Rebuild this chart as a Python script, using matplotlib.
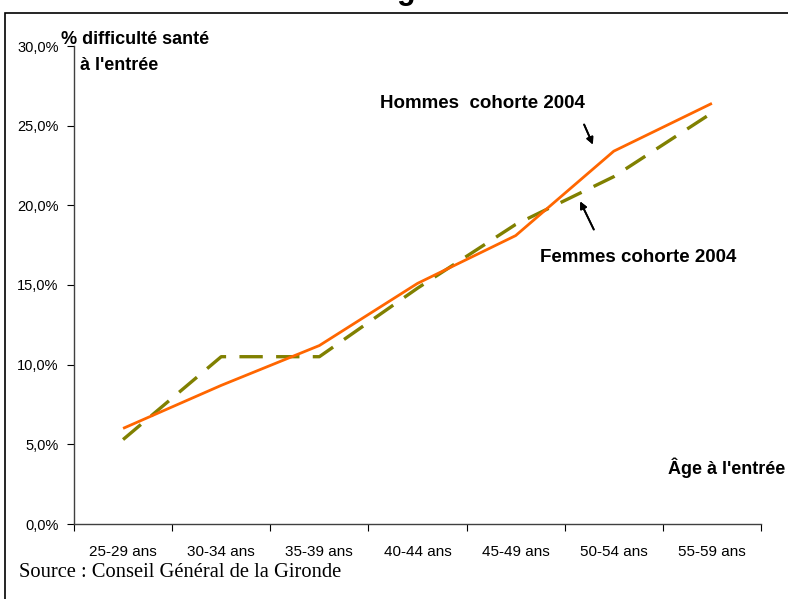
import matplotlib
matplotlib.use("Agg")
import matplotlib.pyplot as plt
from matplotlib.patches import Rectangle
from matplotlib.ticker import FuncFormatter

# donnees
categories = ["25-29 ans", "30-34 ans", "35-39 ans", "40-44 ans",
              "45-49 ans", "50-54 ans", "55-59 ans"]
hommes = [6.0, 8.7, 11.2, 15.1, 18.1, 23.4, 26.4]
femmes = [5.3, 10.5, 10.5, 14.8, 18.8, 21.8, 25.8]
yticks = [0, 5, 10, 15, 20, 25, 30]

arial = ["Liberation Sans", "DejaVu Sans"]

fig = plt.figure(figsize=(7.88, 5.99), dpi=100)
ax = fig.add_axes([74 / 788, 75 / 599, 687 / 788, 478 / 599])

x = list(range(len(categories)))
ax.plot(x, hommes, color="#FF6600", lw=2.0, solid_capstyle="butt", zorder=3)
ax.plot(x, femmes, color="#808000", lw=2.4, dashes=(7, 4), zorder=2)

ax.set_xlim(-0.5, len(categories) - 0.5)
ax.set_ylim(0, 30)
ax.set_yticks(yticks)
ax.yaxis.set_major_formatter(FuncFormatter(lambda v, p: f"{v:.1f}%".replace(".", ",")))
ax.set_xticks([i - 0.5 for i in range(len(categories) + 1)])
ax.set_xticklabels([])
ax.set_xticks(x, minor=True)
ax.set_xticklabels(categories, minor=True)
ax.tick_params(axis="x", which="minor", length=0, pad=15)
ax.tick_params(axis="x", which="major", length=5, direction="out")
ax.tick_params(axis="y", length=5, direction="out", pad=6)
for lab in ax.get_yticklabels():
    lab.set_family(arial)
    lab.set_fontsize(10.5)
for lab in ax.get_xticklabels(minor=True):
    lab.set_family(arial)
    lab.set_fontsize(11)

for s in ["top", "right"]:
    ax.spines[s].set_visible(False)
for s in ["left", "bottom"]:
    ax.spines[s].set_color("#404040")
    ax.spines[s].set_linewidth(1.0)

# textes
fig.text(61 / 788, 1 - 40 / 599, "% difficulté santé", family=arial,
         fontweight="bold", fontsize=13, va="center")
fig.text(80 / 788, 1 - 66 / 599, "à l'entrée", family=arial,
         fontweight="bold", fontsize=13, va="center")
fig.text(668 / 788, 1 - 468 / 599, "Âge à l'entrée", family=arial,
         fontweight="bold", fontsize=13, va="center")
fig.text(380 / 788, 1 - 103 / 599, "Hommes  cohorte 2004", family=arial,
         fontweight="bold", fontsize=13.5, va="center")
fig.text(540 / 788, 1 - 257 / 599, "Femmes cohorte 2004", family=arial,
         fontweight="bold", fontsize=13.5, va="center")
fig.text(19 / 788, 1 - 577 / 599, "Source : Conseil Général de la Gironde",
         family=["Liberation Serif", "DejaVu Serif"], fontsize=14.8, va="baseline")

# fleches
fig.add_artist(plt.annotate("", xy=(594 / 788, 1 - 147 / 599), xytext=(583 / 788, 1 - 122 / 599),
                            xycoords="figure fraction",
                            arrowprops=dict(arrowstyle="-|>", color="black", lw=1.3,
                                            mutation_scale=10)))
fig.add_artist(plt.annotate("", xy=(579 / 788, 1 - 199 / 599), xytext=(595 / 788, 1 - 232 / 599),
                            xycoords="figure fraction",
                            arrowprops=dict(arrowstyle="-|>", color="black", lw=1.3,
                                            mutation_scale=10)))

# cadre et titre coupe
fig.add_artist(Rectangle((5 / 788, -0.05), 1.0, 1 - 13 / 599 + 0.05,
                         transform=fig.transFigure, fill=False,
                         edgecolor="black", lw=1.2))
fig.text(406 / 788, 1 + 1 / 599, "g", family=arial, fontweight="bold",
         fontsize=22, ha="center", va="baseline")

fig.savefig("out.png", dpi=100, facecolor="white")
